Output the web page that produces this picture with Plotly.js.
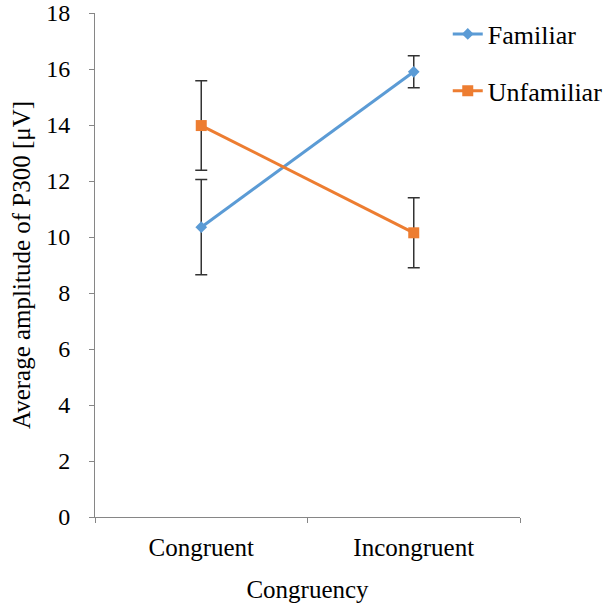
<!DOCTYPE html>
<html>
<head>
<meta charset="utf-8">
<script src="https://cdn.plot.ly/plotly-3.0.1.min.js"></script>
<style>
  html, body { margin: 0; padding: 0; background: #fff; }
  #chart { width: 606px; height: 603px; }
</style>
</head>
<body>
<div id="chart"></div>
<script>
// values
var conditions = ['Congruent', 'Incongruent'];
var familiarMean = [10.35, 15.9];
var familiarErr = [1.7, 0.57];
var unfamiliarMean = [13.98, 10.15];
var unfamiliarErr = [1.6, 1.25];

var serif = '"Liberation Serif", "Times New Roman", Times, serif';

var traces = [
    {
        x: conditions,
        y: familiarMean,
        name: 'Familiar',
        legendgroup: 'a',
        type: 'scatter',
        mode: 'lines+markers',
        line: { color: '#5B9BD5', width: 3 },
        marker: { symbol: 'diamond', size: 9, color: '#5B9BD5' },
        error_y: { type: 'data', array: familiarErr, visible: true, color: '#333333', thickness: 1.5, width: 6 }
    },
    {
        x: conditions,
        y: unfamiliarMean,
        name: 'Unfamiliar',
        legendgroup: 'b',
        type: 'scatter',
        mode: 'lines+markers',
        line: { color: '#ED7D31', width: 3 },
        marker: { symbol: 'square', size: 11, color: '#ED7D31' },
        error_y: { type: 'data', array: unfamiliarErr, visible: true, color: '#333333', thickness: 1.5, width: 6 }
    }
];

var layout = {
    width: 606,
    height: 603,
    margin: { l: 95, r: 86, t: 13, b: 86, autoexpand: false },
    paper_bgcolor: '#fff',
    plot_bgcolor: '#fff',
    font: { family: serif, size: 25, color: '#000' },
    showlegend: true,
    legend: {
        x: 0.83, y: 1.005, xanchor: 'left', yanchor: 'top',
        traceorder: 'grouped', tracegroupgap: 20,
        font: { family: serif, size: 26, color: '#000' },
        bgcolor: 'rgba(0,0,0,0)'
    },
    xaxis: {
        type: 'category',
        range: [-0.5, 1.5],
        tickson: 'boundaries',
        ticks: 'outside', ticklen: 5, tickcolor: '#868686',
        ticklabelstandoff: 8,
        showline: true, linecolor: '#868686', linewidth: 1,
        showgrid: false, zeroline: false,
        tickfont: { family: serif, size: 25 },
        title: { text: 'Congruency', font: { family: serif, size: 25 }, standoff: 22 }
    },
    yaxis: {
        range: [0, 18],
        dtick: 2,
        ticks: 'outside', ticklen: 5, tickcolor: '#868686',
        ticklabelstandoff: 14,
        showline: true, linecolor: '#868686', linewidth: 1,
        showgrid: false, zeroline: false,
        tickfont: { family: serif, size: 24 },
        title: { text: 'Average amplitude of P300 [μV]', font: { family: serif, size: 25 }, standoff: 8 }
    }
};

Plotly.newPlot('chart', traces, layout, { displayModeBar: false, staticPlot: true });
</script>
</body>
</html>
